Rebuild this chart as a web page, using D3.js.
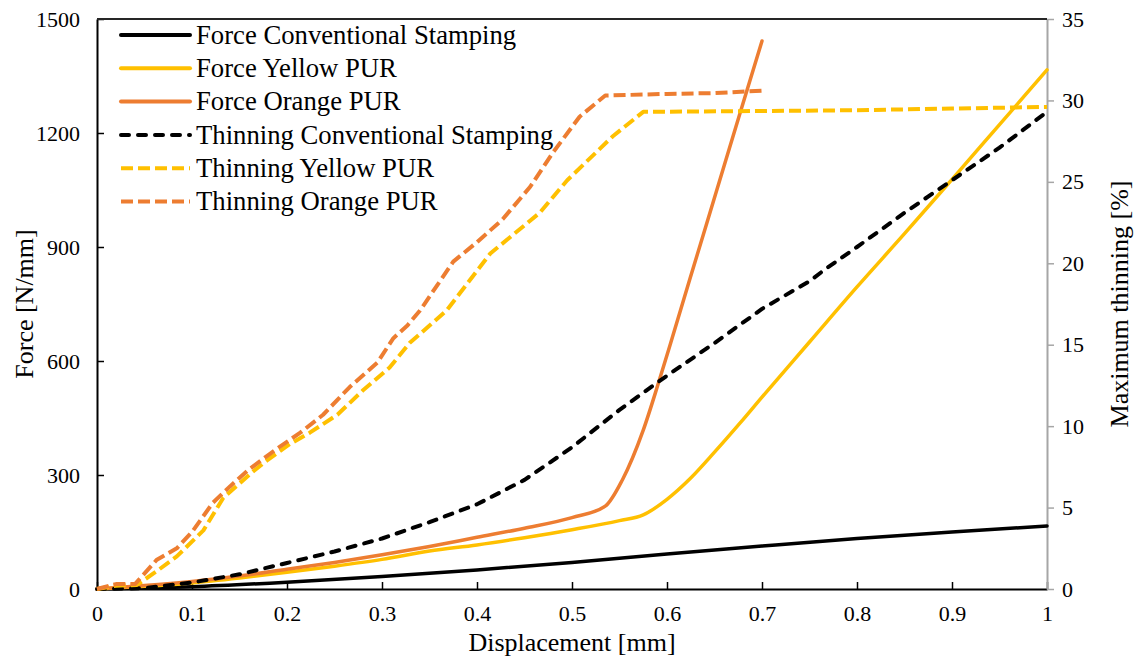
<!DOCTYPE html>
<html>
<head>
<meta charset="utf-8">
<script src="https://cdn.jsdelivr.net/npm/d3@7"></script>
<style>
  html, body { margin: 0; padding: 0; background: #fff; }
  svg { display: block; }
  svg text { font-family: "Liberation Serif", "Times New Roman", "DejaVu Serif", serif; fill: #000; }
</style>
</head>
<body>
<svg id="chart" width="1136" height="657"></svg>
<script>
// --- data ---
const dispConvForce = [0, 0.1, 0.2, 0.3, 0.4, 0.5, 0.6, 0.7, 0.8, 0.9, 1.0];
const forceConv = [0, 6, 18, 33, 50, 70, 92, 113, 133, 150, 166];

const dispYellowForce = [0, 0.05, 0.1, 0.15, 0.2, 0.25, 0.3, 0.35, 0.4, 0.45, 0.5, 0.55, 0.575, 0.6, 0.625, 0.65, 0.677, 0.7, 0.75, 0.8, 0.85, 0.9, 0.95, 1.0];
const forceYellow = [0, 7, 16, 29, 44, 60, 78, 100, 116, 135, 156, 180, 195, 236, 292, 360, 437, 505, 650, 795, 935, 1078, 1222, 1366];

const dispOrangeForce = [0, 0.05, 0.1, 0.15, 0.2, 0.25, 0.3, 0.35, 0.4, 0.45, 0.5, 0.535, 0.553, 0.575, 0.591, 0.606, 0.624, 0.651, 0.677, 0.7];
const forceOrange = [0, 9, 20, 34, 52, 70, 90, 112, 136, 160, 188, 218, 287, 418, 542, 665, 815, 1038, 1253, 1442];

const dispConvThin = [0, 0.05, 0.1, 0.15, 0.2, 0.25, 0.3, 0.35, 0.4, 0.45, 0.5, 0.55, 0.6, 0.65, 0.7, 0.75, 0.768, 0.8, 0.85, 0.9, 0.95, 1.0];
const thinConv = [0, 0.05, 0.4, 0.9, 1.6, 2.3, 3.1, 4.1, 5.2, 6.7, 8.7, 11.0, 13.1, 15.1, 17.2, 18.9, 19.7, 21.0, 23.1, 25.1, 27.1, 29.3];

const dispYellowThin = [0, 0.02, 0.042, 0.063, 0.084, 0.112, 0.133, 0.164, 0.179, 0.203, 0.224, 0.253, 0.28, 0.308, 0.329, 0.368, 0.414, 0.466, 0.495, 0.543, 0.575, 0.7, 0.8, 0.9, 1.0];
const thinYellow = [0, 0.2, 0.25, 1.1, 2.0, 3.6, 5.6, 7.2, 7.9, 8.9, 9.6, 10.7, 12.2, 13.6, 15.1, 17.1, 20.6, 23.1, 25.1, 27.8, 29.3, 29.35, 29.4, 29.5, 29.6];

const dispOrangeThin = [0, 0.02, 0.04, 0.063, 0.084, 0.1, 0.122, 0.14, 0.159, 0.189, 0.214, 0.238, 0.266, 0.295, 0.312, 0.327, 0.34, 0.375, 0.4, 0.427, 0.456, 0.48, 0.508, 0.535, 0.6, 0.65, 0.7];
const thinOrange = [0, 0.3, 0.3, 1.8, 2.5, 3.5, 5.3, 6.3, 7.3, 8.6, 9.6, 10.7, 12.4, 13.9, 15.4, 16.2, 17.1, 20.1, 21.3, 22.7, 24.7, 26.8, 29.0, 30.3, 30.4, 30.45, 30.6];

const xTicks = [0, 0.1, 0.2, 0.3, 0.4, 0.5, 0.6, 0.7, 0.8, 0.9, 1];
const forceTicks = [0, 300, 600, 900, 1200, 1500];
const thinTicks = [0, 5, 10, 15, 20, 25, 30, 35];

const legendNames = [
  "Force Conventional Stamping", "Force Yellow PUR", "Force Orange PUR",
  "Thinning Conventional Stamping", "Thinning Yellow PUR", "Thinning Orange PUR"
];

// --- layout ---
const width = 1136, height = 657;
const margin = { top: 19, right: 89, bottom: 68, left: 97 };
const BLACK = "#000000", YELLOW = "#FFC000", ORANGE = "#ED7D31";

const svg = d3.select("#chart");

const x = d3.scaleLinear().domain([0, 1]).range([margin.left, width - margin.right]);
const yL = d3.scaleLinear().domain([0, 1500]).range([height - margin.bottom, margin.top]);
const yR = d3.scaleLinear().domain([0, 35]).range([height - margin.bottom, margin.top]);

const zip = (xs, ys) => xs.map((d, i) => [d, ys[i]]);

const series = [
  { name: legendNames[0], data: zip(dispConvForce, forceConv), y: yL, color: BLACK, dash: null },
  { name: legendNames[1], data: zip(dispYellowForce, forceYellow), y: yL, color: YELLOW, dash: null },
  { name: legendNames[2], data: zip(dispOrangeForce, forceOrange), y: yL, color: ORANGE, dash: null },
  { name: legendNames[3], data: zip(dispConvThin, thinConv), y: yR, color: BLACK, dash: "8,9", cap: "round" },
  { name: legendNames[4], data: zip(dispYellowThin, thinYellow), y: yR, color: YELLOW, dash: "12,5", cap: "butt" },
  { name: legendNames[5], data: zip(dispOrangeThin, thinOrange), y: yR, color: ORANGE, dash: "12,5", cap: "butt" }
];

// --- axes ---
const xAxis = svg.append("g")
  .attr("transform", `translate(0,${height - margin.bottom})`)
  .call(d3.axisBottom(x).tickValues(xTicks).tickSizeInner(-7).tickSizeOuter(0).tickPadding(16)
    .tickFormat(d => String(d)));
xAxis.select(".domain").attr("stroke", BLACK).attr("stroke-width", 2);
xAxis.selectAll(".tick line").attr("stroke", BLACK).attr("stroke-width", 1.5);
xAxis.selectAll("text").attr("font-size", 22);

const leftAxis = svg.append("g")
  .attr("transform", `translate(${margin.left},0)`)
  .call(d3.axisLeft(yL).tickValues(forceTicks).tickFormat(d3.format("d"))
    .tickSizeInner(-7).tickSizeOuter(0).tickPadding(17));
leftAxis.select(".domain").attr("stroke", BLACK).attr("stroke-width", 2);
leftAxis.selectAll(".tick line").attr("stroke", BLACK).attr("stroke-width", 1.5);
leftAxis.selectAll("text").attr("font-size", 22);

const rightAxis = svg.append("g")
  .attr("transform", `translate(${width - margin.right},0)`)
  .call(d3.axisRight(yR).tickValues(thinTicks).tickFormat(d3.format("d"))
    .tickSizeInner(7).tickSizeOuter(0).tickPadding(8));
rightAxis.select(".domain").attr("stroke", "#A6A6A6").attr("stroke-width", 2);
rightAxis.selectAll(".tick line").attr("stroke", "#A6A6A6").attr("stroke-width", 1.5);
rightAxis.selectAll("text").attr("font-size", 22);

// top border of the plot area
svg.append("line")
  .attr("x1", margin.left).attr("x2", width - margin.right)
  .attr("y1", margin.top).attr("y2", margin.top)
  .attr("stroke", "#262626").attr("stroke-width", 2);

// --- lines ---
const plot = svg.append("g");
series.forEach(s => {
  const line = d3.line()
    .x(d => x(d[0]))
    .y(d => s.y(d[1]))
    .curve(s.dash ? d3.curveLinear : d3.curveMonotoneX);
  plot.append("path")
    .datum(s.data)
    .attr("d", line)
    .attr("fill", "none")
    .attr("stroke", s.color)
    .attr("stroke-width", s.dash ? 4 : 3.5)
    .attr("stroke-dasharray", s.dash)
    .attr("stroke-linecap", s.dash ? s.cap : "round")
    .attr("stroke-linejoin", "round");
});

// --- legend ---
const legend = svg.append("g");
series.forEach((s, i) => {
  const ly = 35 + i * 33.3;
  legend.append("line")
    .attr("x1", 121).attr("x2", 190)
    .attr("y1", ly).attr("y2", ly)
    .attr("stroke", s.color)
    .attr("stroke-width", 4)
    .attr("stroke-dasharray", s.dash)
    .attr("stroke-linecap", s.dash ? s.cap : "round");
  legend.append("text")
    .attr("x", 196).attr("y", ly)
    .attr("dy", "0.33em")
    .attr("font-size", 26.7)
    .text(s.name);
});

// --- axis titles ---
svg.append("text")
  .attr("x", (margin.left + width - margin.right) / 2)
  .attr("y", 651)
  .attr("text-anchor", "middle")
  .attr("font-size", 26)
  .text("Displacement [mm]");

svg.append("text")
  .attr("transform", `translate(33,${(margin.top + height - margin.bottom) / 2}) rotate(-90)`)
  .attr("text-anchor", "middle")
  .attr("font-size", 26)
  .text("Force [N/mm]");

svg.append("text")
  .attr("transform", `translate(1128,${(margin.top + height - margin.bottom) / 2}) rotate(-90)`)
  .attr("text-anchor", "middle")
  .attr("font-size", 26)
  .text("Maximum thinning [%]");
</script>
</body>
</html>
